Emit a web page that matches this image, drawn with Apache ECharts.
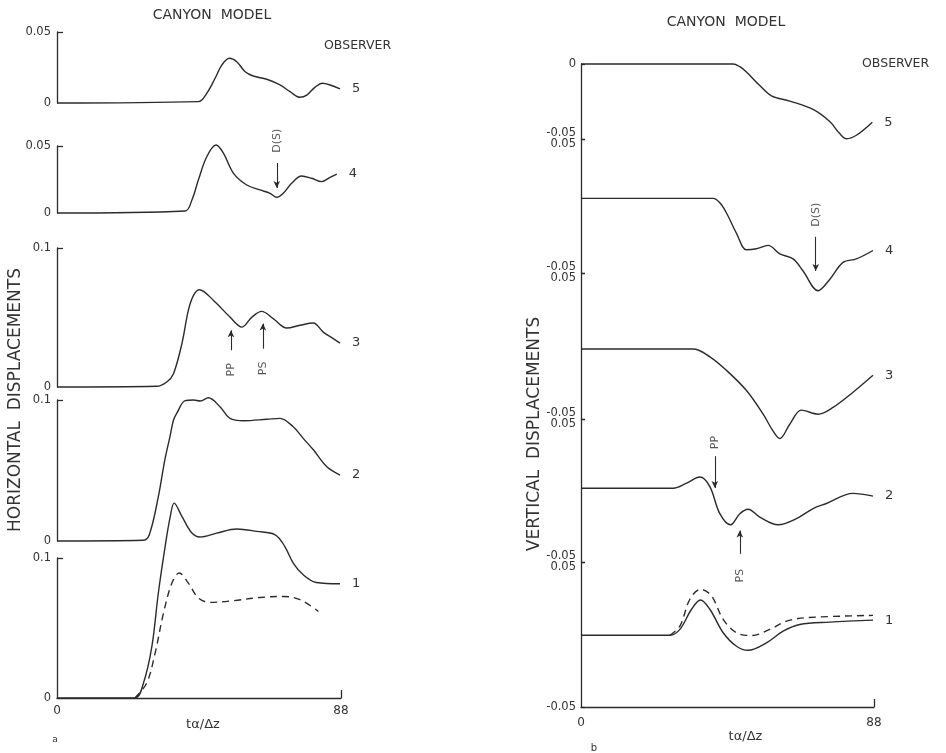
<!DOCTYPE html>
<html><head><meta charset="utf-8">
<script src="https://cdn.jsdelivr.net/npm/echarts@6/dist/echarts.min.js"></script>
<style>html,body{margin:0;padding:0;background:#fff}#c{width:946px;height:753px}</style>
</head><body><div id="c"></div>
<script>
// ---------- DATA ----------
const xTicks = [0, 88];
const xName = 'tα/Δz';
const observers = ['5', '4', '3', '2', '1'];

// Horizontal displacements (panel a), [tα/Δz, value]
const hObs5 = [[0,0],[43.8,0.001],[46.4,0.0068],[49.0,0.0174],[51.1,0.0268],[53.4,0.0315],[55.7,0.0291],[58.3,0.022],[60.8,0.019],[65.0,0.0167],[69.1,0.0127],[72.2,0.008],[75.3,0.004],[77.4,0.0056],[79.9,0.011],[82.3,0.0139],[84.6,0.0127],[87.7,0.0099]];
const hObs4 = [[0,0],[39.7,0.0015],[41.8,0.0097],[43.8,0.0246],[46.4,0.042],[49.3,0.0507],[51.6,0.0445],[54.7,0.0296],[58.8,0.0209],[62.9,0.0172],[66.0,0.0147],[68.1,0.0117],[70.1,0.0147],[72.7,0.0222],[75.8,0.0276],[78.9,0.0259],[82.0,0.0234],[84.6,0.0266],[86.7,0.0291]];
const hObs3 = [[0,0],[30.9,0.0005],[34.0,0.0036],[36.1,0.0096],[38.7,0.0312],[40.7,0.0551],[42.3,0.0659],[44.1,0.07],[48.5,0.0623],[53.6,0.0503],[57.3,0.0431],[60.4,0.0503],[63.4,0.0544],[67.0,0.0492],[71.2,0.0424],[75.3,0.0444],[79.4,0.046],[82.5,0.0395],[85.6,0.0348],[87.7,0.0316]];
const hObs2 = [[0,0],[26.6,0.0005],[28.6,0.0045],[31.4,0.0314],[33.4,0.0574],[35.0,0.074],[36.1,0.0858],[37.1,0.0905],[39.7,0.0995],[42.3,0.1],[44.4,0.0993],[46.9,0.1016],[50.5,0.0952],[53.6,0.087],[57.8,0.0853],[65.0,0.0863],[69.1,0.087],[73.2,0.081],[76.3,0.0728],[79.5,0.0645],[83.6,0.0527],[87.7,0.0468]];
const hObs1 = [[0,0],[24.1,0],[26.8,0.0107],[29.4,0.0368],[31.4,0.075],[33.5,0.1082],[35.1,0.1297],[36.3,0.1392],[38.7,0.1297],[41.8,0.1178],[44.3,0.115],[49.5,0.1178],[55.7,0.1207],[61.9,0.119],[67.6,0.1166],[70.6,0.1082],[73.2,0.0964],[76.3,0.088],[80.4,0.0825],[87.7,0.0816]];
const hObs1Dashed = [[24.1,0],[27.8,0.0107],[30.4,0.0321],[33.0,0.0607],[35.6,0.0821],[37.9,0.0893],[40.7,0.0821],[43.8,0.0714],[47.4,0.0683],[54.7,0.0695],[62.9,0.0718],[70.1,0.0725],[75.3,0.0702],[81.0,0.0618]];

// Vertical displacements (panel b)
const vObs5 = [[0,0],[45.7,0],[47.7,-0.0018],[49.7,-0.0053],[53.7,-0.0144],[57.2,-0.0212],[62.7,-0.0247],[69.7,-0.0303],[74.7,-0.0384],[77.7,-0.0464],[79.7,-0.0498],[82.7,-0.0475],[87.5,-0.0388]];
const vObs4 = [[0,0.0057],[39.7,0.0057],[41.7,0.0024],[43.7,-0.0052],[46.7,-0.0204],[49.7,-0.0327],[52.7,-0.0319],[56.2,-0.0294],[59.7,-0.0357],[63.7,-0.0395],[66.7,-0.0485],[71.2,-0.0632],[74.7,-0.0548],[78.7,-0.0421],[82.7,-0.0395],[87.7,-0.0332]];
const vObs3 = [[0,-0.0021],[33.7,-0.0021],[38.7,-0.0074],[43.7,-0.0167],[49.7,-0.0305],[54.7,-0.0467],[57.7,-0.0583],[59.7,-0.0634],[62.7,-0.0536],[66.2,-0.0439],[71.2,-0.0467],[75.7,-0.0421],[81.7,-0.0317],[87.7,-0.0201]];
const vObs2 = [[0,0.0016],[27.7,0.0016],[31.7,0.0051],[35.7,0.0094],[38.7,0.0027],[41.7,-0.0162],[44.9,-0.024],[47.7,-0.0162],[50.2,-0.0131],[53.7,-0.0186],[59.2,-0.024],[64.7,-0.0197],[69.7,-0.0126],[73.7,-0.0091],[81.7,-0.002],[87.7,-0.0039]];
const vObs1 = [[0,-0.0005],[26.7,-0.0005],[29.7,0.0035],[33.2,0.0174],[35.9,0.0238],[38.7,0.0174],[42.7,0.0012],[46.7,-0.0081],[50.2,-0.0109],[55.7,-0.0058],[60.7,0.0023],[65.7,0.0069],[74.7,0.0085],[87.7,0.0099]];
const vObs1Dashed = [[26.7,-0.0005],[29.7,0.0058],[32.7,0.0243],[35.9,0.0312],[39.2,0.0266],[42.7,0.0104],[46.7,0.0012],[51.2,-0.0007],[56.7,0.0035],[61.7,0.0092],[67.7,0.0116],[87.7,0.0132]];

// y-axis ranges per panel (top to bottom)
const hRanges = [[0,0.05],[0,0.05],[0,0.1],[0,0.1],[0,0.1]];
const vRanges = [[-0.05,0],[-0.05,0.05],[-0.05,0.05],[-0.05,0.05],[-0.05,0.05]];

// arrow annotations: [panel, x, yFrom, yTo(head), labelY, text]
const hArrows = [[1,68.1,0.0373,0.0187,0.054,'D(S)'],[2,53.9,0.0264,0.0408,0.0124,'PP'],[2,63.8,0.0276,0.0456,0.0134,'PS']];
const vArrows = [[3,40.2,0.024,0.0018,0.0335,'PP'],[3,47.7,-0.0443,-0.028,-0.0595,'PS'],[1,70.5,-0.023,-0.0485,-0.0065,'D(S)']];

// ---------- LAYOUT ----------
const FONT = 'DejaVu Sans';
const INK = '#2b2b2b';
const TXT = '#333333';
const leftGeom = [[32,71],[146,67],[248,139],[400,141],[558,140]];
const rightGeom = [[64,75],[139,134],[273,146],[419,143],[562,145]];
const hSeries = [hObs5,hObs4,hObs3,hObs2,hObs1];
const vSeries = [vObs5,vObs4,vObs3,vObs2,vObs1];

const grid = [], xAxis = [], yAxis = [], series = [];

function addPanel(idx, geom, left, width, range, isBottom, side) {
  grid.push({left: left, width: width, top: geom[0], height: geom[1]});
  xAxis.push({
    gridIndex: idx, type: 'value', min: xTicks[0], max: xTicks[1], interval: 88,
    show: isBottom,
    axisLine: {show: true, onZero: false, lineStyle: {color: INK, width: 1.3}},
    axisTick: {show: true, inside: true, length: 8, customValues: [xTicks[1]], lineStyle: {color: INK, width: 1.3}},
    axisLabel: {fontFamily: FONT, fontSize: 12, color: TXT, margin: side === 'L' ? 7 : 10},
    splitLine: {show: false},
    name: xName, nameLocation: 'middle', nameGap: 14,
    nameTextStyle: {fontFamily: FONT, fontSize: 13, color: TXT, padding: side === 'L' ? [0,0,0,8] : [0,0,0,36]}
  });
  const lo = range[0], hi = range[1];
  let axisLabel;
  if (side === 'L') {
    axisLabel = {fontFamily: FONT, fontSize: 11.5, color: TXT, margin: 6,
      customValues: [lo, hi], formatter: v => v === 0 ? '0' : String(v)};
  } else {
    axisLabel = {fontFamily: FONT, fontSize: 11.5, color: TXT, margin: 5,
      customValues: [lo, hi],
      formatter: v => {
        if (v === 0) return '0';
        if (v > 0) return '{lo|' + v + '}';
        return isBottom ? String(v) : '{hi|' + v + '}';
      },
      rich: {
        hi: {fontFamily: FONT, fontSize: 11.5, color: TXT, padding: [0,0,12,0]},
        lo: {fontFamily: FONT, fontSize: 11.5, color: TXT, padding: [10,0,0,0]}
      }};
  }
  yAxis.push({
    gridIndex: idx, type: 'value', min: lo, max: hi,
    axisLine: {show: true, onZero: false, lineStyle: {color: INK, width: 1.3}},
    axisTick: {show: true, inside: true, length: side === 'L' ? 6 : 4, customValues: side === 'L' ? [hi] : [lo, hi], lineStyle: {color: INK, width: 1.3}},
    axisLabel: axisLabel,
    splitLine: {show: false}
  });
}

for (let i = 0; i < 5; i++) addPanel(i, leftGeom[i], 57, 284, hRanges[i], i === 4, 'L');
for (let i = 0; i < 5; i++) addPanel(5 + i, rightGeom[i], 581, 293, vRanges[i], i === 4, 'R');

function lineSeries(idx, data, label, dashed) {
  return {
    type: 'line', xAxisIndex: idx, yAxisIndex: idx, data: data,
    smooth: 0.35, showSymbol: false, clip: false, silent: true,
    lineStyle: {color: INK, width: 1.4, type: dashed ? [7, 5] : 'solid'},
    endLabel: label ? {show: true, formatter: label, distance: 12, fontFamily: FONT, fontSize: 13, color: TXT} : {show: false}
  };
}
for (let i = 0; i < 5; i++) {
  series.push(lineSeries(i, hSeries[i], observers[i], false));
  series.push(lineSeries(5 + i, vSeries[i], observers[i], false));
}
series.push(lineSeries(4, hObs1Dashed, null, true));
series.push(lineSeries(9, vObs1Dashed, null, true));

function addArrows(list, offset) {
  list.forEach(a => {
    const idx = offset + a[0];
    series.push({
      type: 'line', xAxisIndex: idx, yAxisIndex: idx, data: [], silent: true,
      markLine: {silent: true, symbol: ['none', 'arrow'], symbolSize: [5, 7], animation: false,
        lineStyle: {color: INK, width: 1.1, type: 'solid'}, label: {show: false},
        data: [[{coord: [a[1], a[2]]}, {coord: [a[1], a[3]]}]]}
    });
    series.push({
      type: 'scatter', xAxisIndex: idx, yAxisIndex: idx, clip: false, silent: true,
      symbol: 'circle', symbolSize: 2, itemStyle: {color: 'rgba(255,255,255,0)'},
      data: [[a[1], a[4], a[5]]],
      label: {show: true, position: 'inside', rotate: 90, formatter: p => p.data[2],
        fontFamily: FONT, fontSize: 11, color: '#2a2a2a'}
    });
  });
}
addArrows(hArrows, 0);
addArrows(vArrows, 5);

const graphic = [
  {type: 'text', x: 212, y: 15, style: {text: 'CANYON  MODEL', font: '14px "DejaVu Sans"', fill: TXT, align: 'center', verticalAlign: 'middle'}},
  {type: 'text', x: 726, y: 22, style: {text: 'CANYON  MODEL', font: '14px "DejaVu Sans"', fill: TXT, align: 'center', verticalAlign: 'middle'}},
  {type: 'text', x: 324, y: 46, style: {text: 'OBSERVER', font: '12.5px "DejaVu Sans"', fill: TXT, align: 'left', verticalAlign: 'middle'}},
  {type: 'text', x: 862, y: 64, style: {text: 'OBSERVER', font: '12.5px "DejaVu Sans"', fill: TXT, align: 'left', verticalAlign: 'middle'}},
  {type: 'text', x: 16, y: 400, rotation: Math.PI / 2, style: {text: 'HORIZONTAL  DISPLACEMENTS', font: '17px "DejaVu Sans"', fill: TXT, align: 'center', verticalAlign: 'middle'}},
  {type: 'text', x: 535, y: 434, rotation: Math.PI / 2, style: {text: 'VERTICAL  DISPLACEMENTS', font: '17px "DejaVu Sans"', fill: TXT, align: 'center', verticalAlign: 'middle'}},
  {type: 'text', x: 55, y: 740, style: {text: 'a', font: '9px "DejaVu Sans"', fill: TXT, align: 'center', verticalAlign: 'middle'}},
  {type: 'text', x: 594, y: 748, style: {text: 'b', font: '10px "DejaVu Sans"', fill: TXT, align: 'center', verticalAlign: 'middle'}}
];

const chart = echarts.init(document.getElementById('c'), null, {renderer: 'canvas'});
chart.setOption({
  backgroundColor: '#ffffff',
  animation: false,
  grid: grid, xAxis: xAxis, yAxis: yAxis, series: series, graphic: graphic
});
</script>
</body></html>
